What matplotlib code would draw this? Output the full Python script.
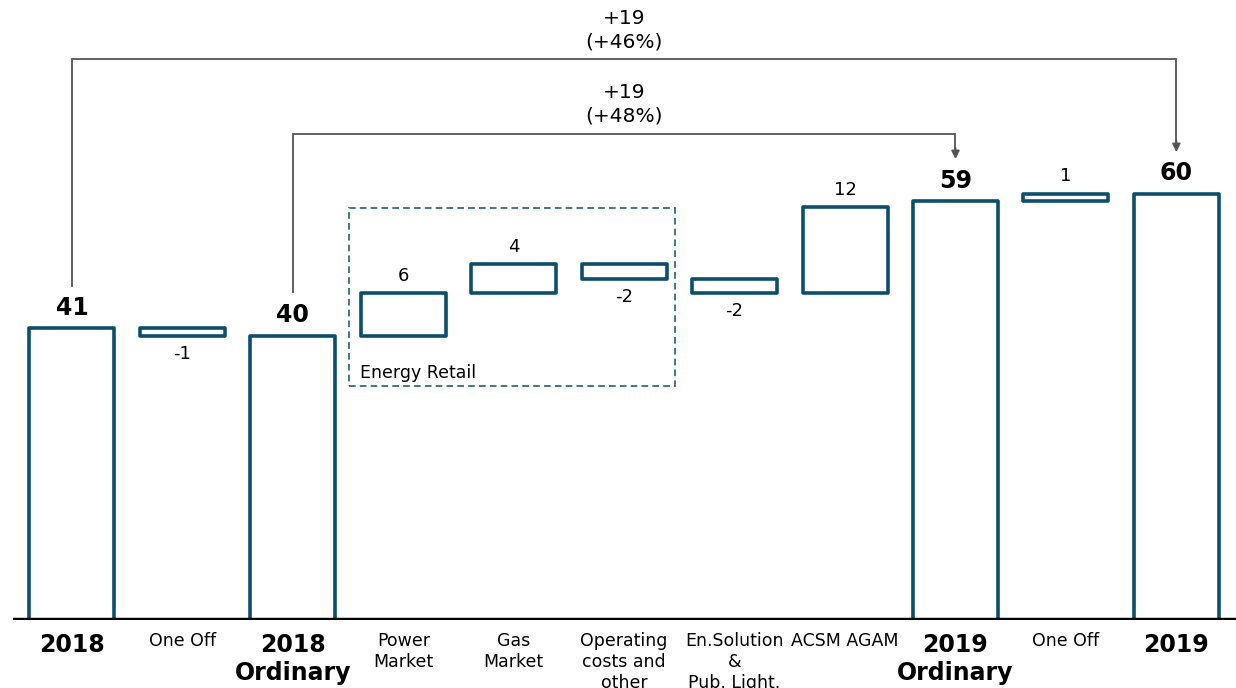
import matplotlib
matplotlib.use("Agg")
import matplotlib.pyplot as plt
from matplotlib.patches import Rectangle

plt.rcParams['font.family'] = ['DejaVu Sans']

# ---- data ----
categories = ["2018", "One Off", "2018\nOrdinary", "Power\nMarket", "Gas\nMarket",
              "Operating\ncosts and\nother", "En.Solution\n&\nPub. Light.", "ACSM AGAM",
              "2019\nOrdinary", "One Off", "2019"]
is_total = [True, False, True, False, False, False, False, False, True, False, True]
bar_low = [0, 39.9, 0, 39.9, 45.9, 47.9, 45.9, 45.9, 0, 58.8, 0]
bar_high = [41.0, 41.0, 39.9, 45.9, 50.0, 50.0, 47.9, 58.0, 58.8, 59.9, 59.9]
value_labels = ["41", "-1", "40", "6", "4", "-2", "-2", "12", "59", "1", "60"]
label_above = [True, False, True, True, True, False, False, True, True, True, True]

bracket_outer = {"from": 0, "to": 10, "text": "+19\n(+46%)"}
bracket_inner = {"from": 2, "to": 8, "text": "+19\n(+48%)"}

group_box_label = "Energy Retail"

# ---- style ----
EDGE = "#0b4f6c"
GREY = "#555555"

fig = plt.figure(figsize=(12.36, 6.88), dpi=100)
ax = fig.add_axes([13 / 1236, 68 / 688, 1 - 13 / 1236, 620 / 688])
ax.set_xlim(-0.534, 10.54)
ax.set_ylim(0, 87.1)
for s in ax.spines.values():
    s.set_visible(False)
ax.set_yticks([])

xs = list(range(len(categories)))
width = 0.77
for x, lo, hi in zip(xs, bar_low, bar_high):
    ax.add_patch(Rectangle((x - width / 2, lo), width, hi - lo, facecolor="white",
                           edgecolor=EDGE, linewidth=2.6, joinstyle="round", zorder=3))

# value labels
for x, lo, hi, lab, above, tot in zip(xs, bar_low, bar_high, value_labels, label_above, is_total):
    if above:
        y, va = hi + 1.2, "bottom"
    else:
        y, va = lo - 1.2, "top"
    if tot:
        ax.text(x, y, lab, ha="center", va=va, fontsize=17, fontweight="bold", color="black")
    else:
        ax.text(x, y, lab, ha="center", va=va, fontsize=13, color="black")

# baseline
ax.axhline(0, color="black", lw=3.2, zorder=4)

# category labels
ax.set_xticks(xs)
ax.set_xticklabels(categories)
ax.tick_params(axis="x", length=0, pad=9)
for t, tot in zip(ax.get_xticklabels(), is_total):
    t.set_verticalalignment("top")
    t.set_multialignment("center")
    if tot:
        t.set_fontsize(17)
        t.set_fontweight("bold")
        t.set_linespacing(1.25)
    else:
        t.set_fontsize(12.5)
        t.set_linespacing(1.18)

# energy retail group box
ax.add_patch(Rectangle((2.509, 32.9), 5.462 - 2.509, 57.9 - 32.9, facecolor="none",
                       edgecolor="#1f5f7a", linewidth=1.2, linestyle=(0, (4, 2.5)), zorder=2))
ax.text(2.605, 34.7, group_box_label, ha="left", va="center", fontsize=12.5, color="black")


def bracket(b, y_start, y_top, y_tip, text_y):
    x0, x1 = b["from"], b["to"]
    ax.plot([x0, x0, x1, x1], [y_start, y_top, y_top, y_tip + 1.0], color=GREY, lw=1.3,
            solid_joinstyle="miter", zorder=5)
    ax.annotate("", xy=(x1, y_tip), xytext=(x1, y_tip + 1.6),
                arrowprops=dict(arrowstyle="-|>", color=GREY, lw=1.3, mutation_scale=12,
                                shrinkA=0, shrinkB=0), zorder=5)
    ax.text(5, text_y, b["text"], ha="center", va="center", fontsize=14.5,
            color="black", linespacing=1.3)


bracket(bracket_outer, (620 - 286) / 7.12, (620 - 59) / 7.12, (620 - 152) / 7.12, (620 - 30) / 7.12)
bracket(bracket_inner, (620 - 292) / 7.12, (620 - 134) / 7.12, (620 - 159) / 7.12, (620 - 104) / 7.12)

fig.savefig("out.png", dpi=100)
